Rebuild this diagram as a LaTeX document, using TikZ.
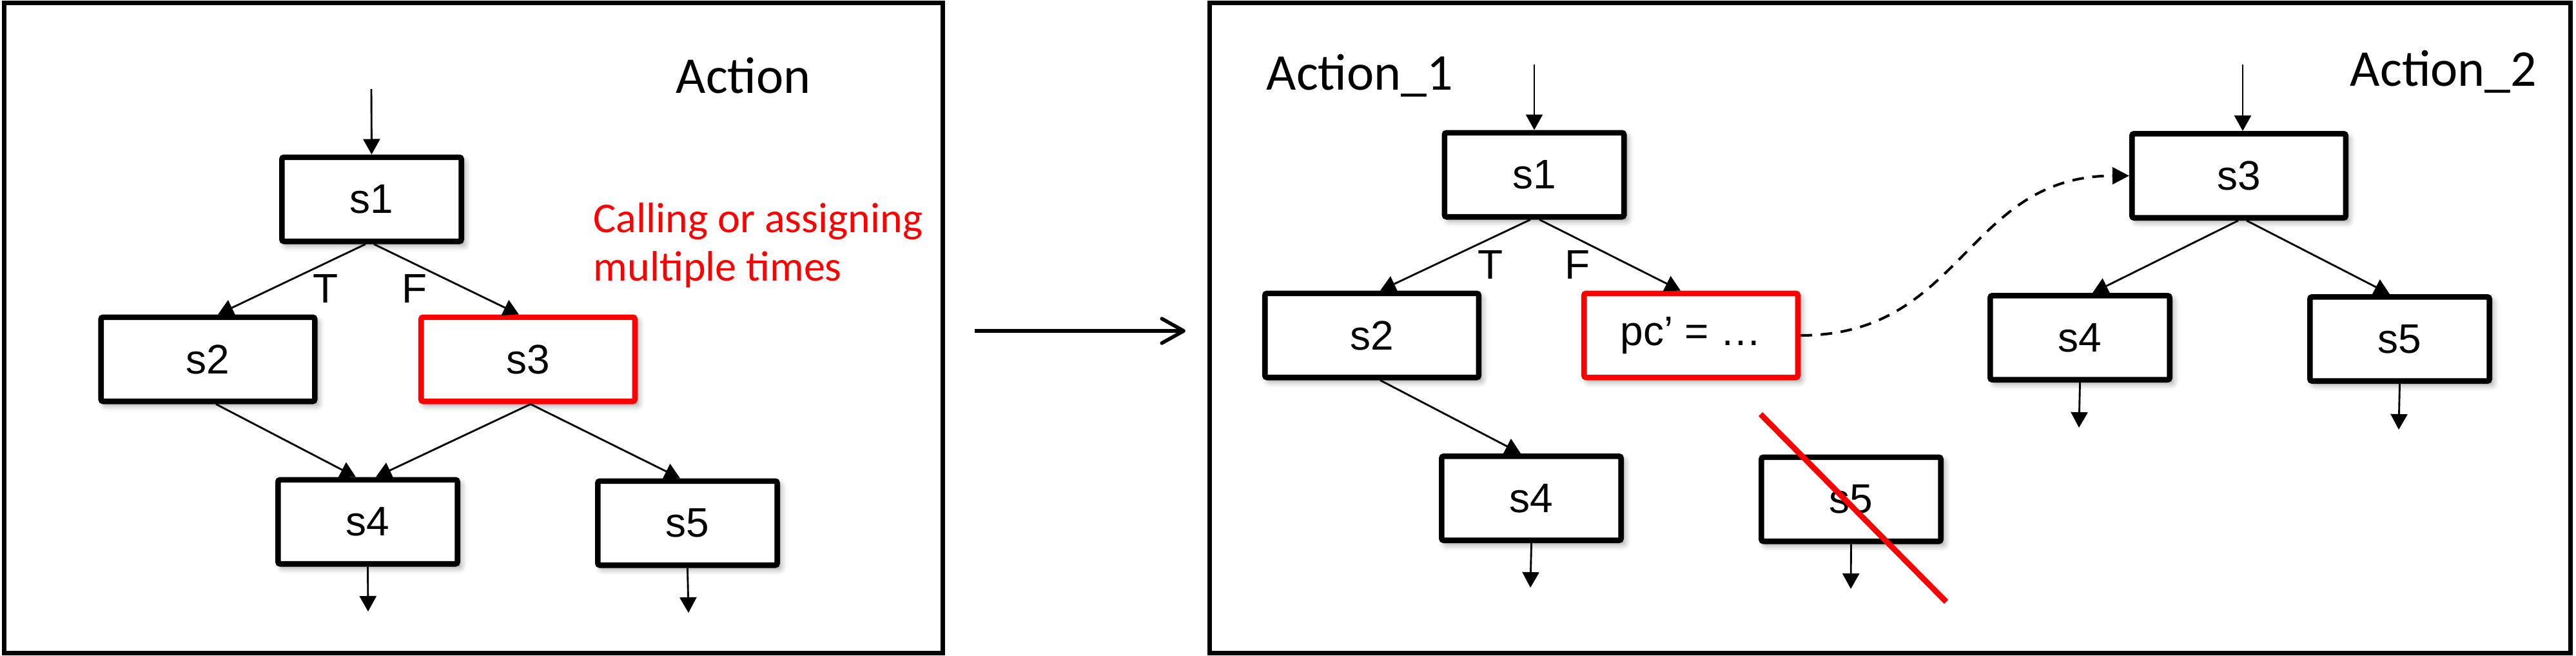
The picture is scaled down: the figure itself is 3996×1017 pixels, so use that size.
\documentclass[tikz,border=0pt]{standalone}
\usepackage{fontspec}
\setmainfont{Liberation Sans}
\newfontfamily\carlito{Carlito}
\usetikzlibrary{arrows.meta,calc,shadows.blur}
\begin{document}
\begin{tikzpicture}[x=0.25pt,y=-0.25pt,
  stbox/.style={draw=black, line width=2.15pt, rounded corners=0.8pt, fill=white, minimum width=69.6pt, minimum height=32.6pt, inner sep=0pt,
    font=\fontsize{16}{19}\selectfont,
    blur shadow={shadow xshift=1.3pt, shadow yshift=-1.5pt, shadow blur radius=2.4pt, shadow opacity=40}},
  widebox/.style={stbox, minimum width=82.9pt},
  redbox/.style={widebox, draw=red},
  conn/.style={line width=0.72pt, -{Triangle[length=6pt,width=6.5pt]}},
  frame/.style={line width=1.75pt},
  lbl/.style={font=\fontsize{16}{19}\selectfont, inner sep=0pt},
  title/.style={font=\carlito\fontsize{20}{24}\selectfont, inner sep=0pt, anchor=base west},
  note/.style={font=\carlito\fontsize{16.5}{20}\selectfont, text=red, inner sep=0pt, anchor=base west}
]
\useasboundingbox (0,0) rectangle (3996,1017);
% frames
\draw[frame] (6.5,4) rectangle (1462,1012);
\draw[frame] (1876,4.5) rectangle (3987,1012);

% ---------- left panel ----------
\node[title] (act) at (1048,144) {Action};
\node[note] (n1) at (920,360) {Calling or assigning};
\node[note] (n2) at (920,435) {multiple times};

\node[stbox]   (s1) at (576.5,309) {s1};
\node[widebox] (s2) at (322.5,557) {s2};
\node[redbox]  (s3) at (819,557) {s3};
\node[stbox]   (s4) at (570.5,809) {s4};
\node[stbox]   (s5) at (1066.5,811) {s5};

\coordinate (in1) at (576,138);
\coordinate (o4) at (571,948);
\coordinate (o5) at (1068,950);
\draw[conn] (in1) -- (s1.north);
\draw[conn] ($(s1.south)+(-9.5,0)$) -- ($(s2.north)+(15.5,0)$);
\draw[conn] ($(s1.south)+(3.5,0)$) -- ($(s3.north)+(-14,0)$);
\draw[conn] ($(s2.south)+(12.5,0)$) -- ($(s4.north)+(-18.5,0)$);
\draw[conn] ($(s3.south)+(4,0)$) -- ($(s4.north)+(12.5,0)$);
\draw[conn] ($(s3.south)+(4,0)$) -- ($(s5.north)+(-11.5,0)$);
\draw[conn] (s4.south) -- (o4);
\draw[conn] (s5.south) -- (o5);
\node[lbl] (t1) at (505,447) {T};
\node[lbl] (f1) at (643,447) {F};

% ---------- middle arrow ----------
\coordinate (m1) at (1512,513);
\coordinate (m2) at (1839,513);
\draw[line width=1.4pt, -{Straight Barb[length=8.5pt,width=9.5pt,line cap=round,line join=round]}] (m1) -- (m2);

% ---------- right panel ----------
\node[title] (act1) at (1964,139) {Action\_1};
\node[title] (act2) at (3645,133) {Action\_2};

\node[stbox]   (r1) at (2380,271) {s1};
\node[widebox] (r2) at (2128,520) {s2};
\node[redbox]  (pc) at (2623,520) {pc’ = …};
\node[stbox]   (r4) at (2375.5,772.5) {s4};
\node[stbox]   (r5) at (2871.5,774) {s5};
\node[widebox] (r3) at (3473,272.5) {s3};
\node[stbox]   (q4) at (3226.5,523.5) {s4};
\node[stbox]   (q5) at (3722.5,525.5) {s5};

\coordinate (in2) at (2380,100);
\coordinate (in3) at (3479,100);
\coordinate (p4) at (2374,911);
\coordinate (p5) at (2871,913);
\coordinate (p6) at (3225,663);
\coordinate (p7) at (3721,666);
\draw[conn] (in2) -- (r1.north);
\draw[conn] (in3) -- ($(r3.north)+(6,0)$);
\draw[conn] ($(r1.south)+(-6,0)$) -- ($(r2.north)+(13,0)$);
\draw[conn] ($(r1.south)+(8,0)$) -- ($(pc.north)+(-16,0)$);
\draw[conn] ($(r2.south)+(13,0)$) -- ($(r4.north)+(-16.5,0)$);
\draw[conn] ($(r3.south)+(-1,0)$) -- ($(q4.north)+(19.5,0)$);
\draw[conn] ($(r3.south)+(12,0)$) -- ($(q5.north)+(-15.5,0)$);
\draw[conn] (r4.south) -- (p4);
\draw[conn] (r5.south) -- (p5);
\draw[conn] (q4.south) -- (p6);
\draw[conn] (q5.south) -- (p7);
\node[lbl] (t2) at (2312,410) {T};
\node[lbl] (f2) at (2447,410) {F};

\draw[line width=1pt, dash pattern=on 4.5pt off 3.3pt, -{Triangle[length=6.5pt,width=6.5pt]}]
  (pc.east) .. controls +(253,0) and +(-253,0) .. (r3.west);

\coordinate (x1) at (2731,642);
\coordinate (x2) at (3019,933);
\draw[red, line width=2.2pt] (x1) -- (x2);
\end{tikzpicture}
\end{document}
